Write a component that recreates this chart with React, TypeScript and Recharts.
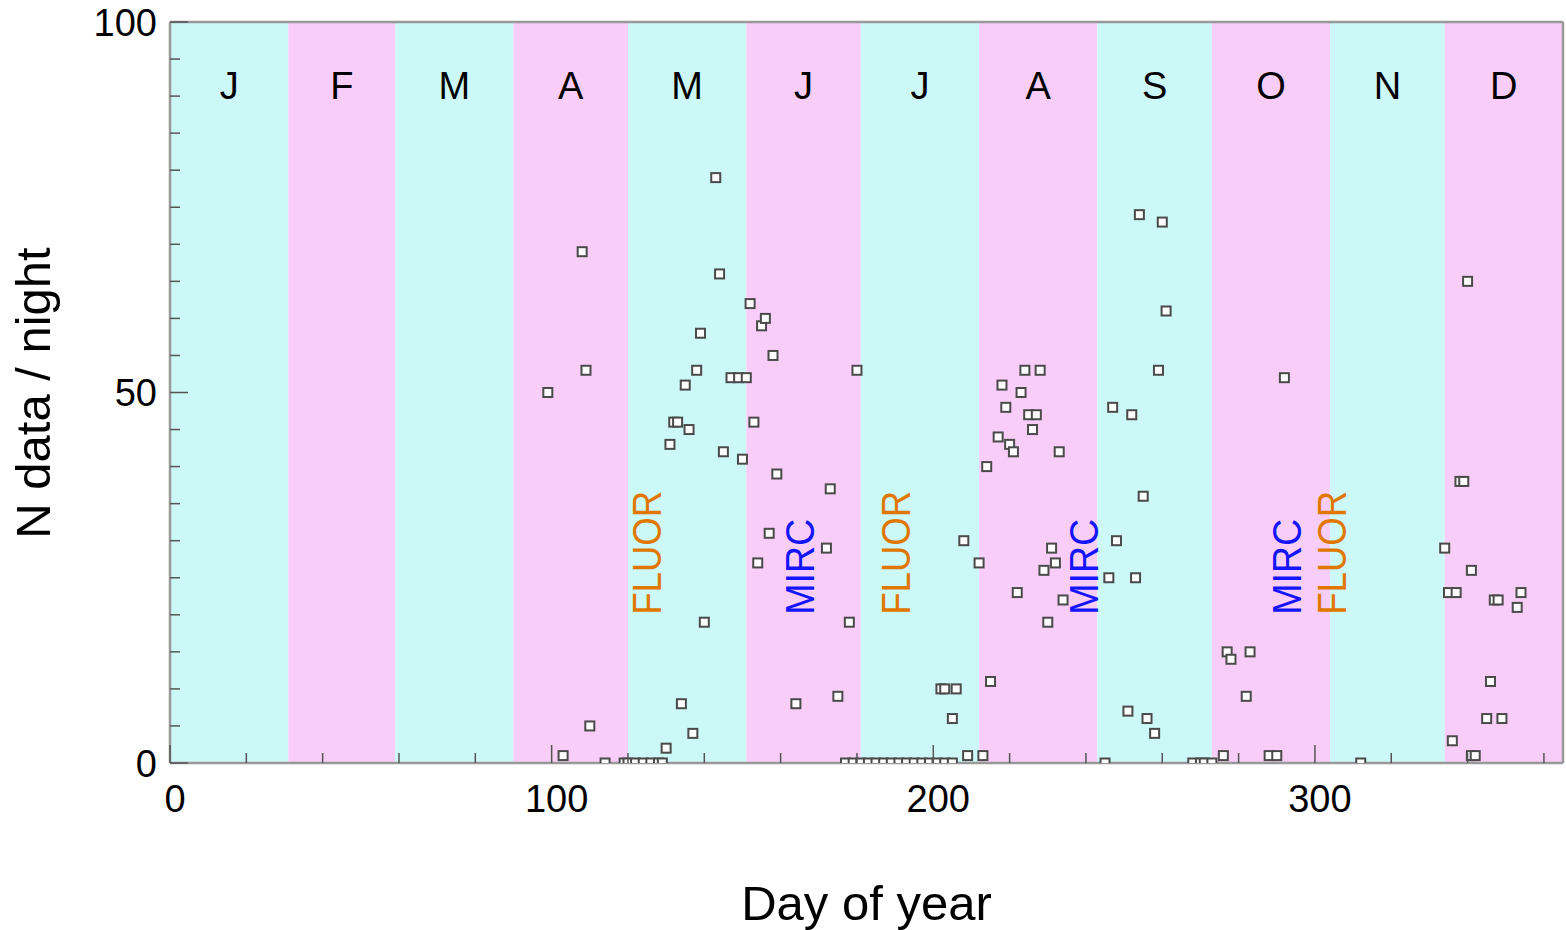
import React from "react";
import { ScatterChart, Scatter, XAxis, YAxis, ReferenceArea } from "recharts";

// nights observed: day of year and number of data points that night
const dayOfYear = [
  99, 103, 108, 109, 110, 114, 119, 120, 122, 124, 126, 128, 129, 130, 131, 132,
  133, 134, 135, 136, 137, 138, 139, 140, 143, 144, 145, 147, 149, 151, 150, 152,
  153, 154, 155, 156, 157, 158, 159, 164, 172, 173, 175, 177, 178, 180,
  179, 181, 183, 185, 187, 189, 191, 193, 195, 197, 199, 201, 203, 205,
  202, 203, 206, 205, 208, 209, 212, 213, 214, 215, 217, 218, 219, 220, 221, 222,
  223, 224, 225, 226, 227, 228, 229, 230, 231, 232, 233, 234, 245, 246, 247, 248,
  251, 252, 253, 254, 255, 256, 258, 259, 260, 261,
  268, 270, 271, 273, 276, 277, 278, 282, 283, 288, 290, 292, 312,
  334, 335, 336, 337, 338, 339, 340, 341, 341, 342, 345, 346, 347, 348, 349, 353, 354,
];
const nDataPerNight = [
  50, 1, 69, 53, 5, 0, 0, 0, 0, 0, 0, 0, 0, 2, 43, 46,
  46, 8, 51, 45, 4, 53, 58, 19, 79, 66, 42, 52, 52, 52, 41, 62,
  46, 27, 59, 60, 31, 55, 39, 8, 29, 37, 9, 0, 19, 53,
  0, 0, 0, 0, 0, 0, 0, 0, 0, 0, 0, 0, 0, 0,
  10, 10, 10, 6, 30, 1, 27, 1, 40, 11, 44, 51, 48, 43, 42, 23,
  50, 53, 47, 45, 47, 53, 26, 19, 29, 27, 42, 22, 0, 25, 48, 30,
  7, 47, 25, 74, 36, 6, 4, 53, 73, 61,
  0, 0, 0, 0, 1, 15, 14, 9, 15, 1, 1, 52, 0,
  29, 23, 3, 23, 38, 38, 65, 26, 1, 1, 6, 11, 22, 22, 6, 21, 23,
];

const monthLetters = ["J", "F", "M", "A", "M", "J", "J", "A", "S", "O", "N", "D"];
const monthStarts = [0, 31, 59, 90, 120, 151, 181, 212, 243, 273, 304, 334];
const monthEnds = [31, 59, 90, 120, 151, 181, 212, 243, 273, 304, 334, 365];

const instrumentNames = ["FLUOR", "MIRC", "FLUOR", "MIRC", "MIRC", "FLUOR"];
const instrumentDays = [125, 165, 190, 239.5, 292.5, 304.5];
const instrumentBase = 20;

const xTicks = [0, 20, 40, 60, 80, 100, 120, 140, 160, 180, 200, 220, 240, 260, 280, 300, 320, 340, 360];
const xMajor = [0, 100, 200, 300];
const yTicks = [0, 5, 10, 15, 20, 25, 30, 35, 40, 45, 50, 55, 60, 65, 70, 75, 80, 85, 90, 95, 100];
const yMajor = [0, 50, 100];

const nights = dayOfYear.map((d, i) => ({ day: d, n: nDataPerNight[i] }));
const instruments = instrumentNames.map((name, i) => ({
  day: instrumentDays[i],
  n: instrumentBase,
  name,
}));

const FONT = '"Liberation Sans", Arial, Helvetica, sans-serif';
const CYAN = "#cdf8f8";
const PINK = "#f8cef8";
const TICK = "#555";
const FRAME = { stroke: "#999", strokeWidth: 2.5 };
const instrumentColor: Record<string, string> = { FLUOR: "#e07800", MIRC: "#1414ff" };

const BottomTick = ({ x, y, payload }: any) => {
  const major = xMajor.includes(payload.value);
  return (
    <g>
      <line x1={x} x2={x} y1={y} y2={y - (major ? 18 : 10)} stroke={TICK} strokeWidth={1.5} />
      {major && (
        <text x={x + 5} y={y + 49} textAnchor="middle" fontSize={38} fontFamily={FONT} fill="#000">
          {payload.value}
        </text>
      )}
    </g>
  );
};

const TopTick = ({ x, y, payload }: any) => {
  const major = xMajor.includes(payload.value);
  return <line x1={x} x2={x} y1={y} y2={y + (major ? 18 : 10)} stroke={TICK} strokeWidth={1.5} />;
};

const LeftTick = ({ x, y, payload }: any) => {
  const major = yMajor.includes(payload.value);
  return (
    <g>
      <line x1={x} x2={x + (major ? 18 : 10)} y1={y} y2={y} stroke={TICK} strokeWidth={1.5} />
      {major && (
        <text x={x - 13} y={y + 13.5} textAnchor="end" fontSize={38} fontFamily={FONT} fill="#000">
          {payload.value}
        </text>
      )}
    </g>
  );
};

const RightTick = ({ x, y, payload }: any) => {
  const major = yMajor.includes(payload.value);
  return <line x1={x} x2={x - (major ? 18 : 10)} y1={y} y2={y} stroke={TICK} strokeWidth={1.5} />;
};

const NightSquare = ({ cx, cy }: any) => (
  <rect x={cx - 4.5} y={cy - 4.5} width={9} height={9} fill="#fff" stroke="#4a4a4a" strokeWidth={2} />
);

const InstrumentText = ({ cx, cy, payload }: any) => (
  <text
    x={cx}
    y={cy}
    dy="0.36em"
    transform={`rotate(-90 ${cx} ${cy})`}
    fontSize={40}
    fontFamily={FONT}
    textLength={payload.name === "FLUOR" ? 124 : 96}
    lengthAdjust="spacingAndGlyphs"
    fill={instrumentColor[payload.name]}
  >
    {payload.name}
  </text>
);

export default function App() {
  return (
    <div style={{ position: "absolute", left: 0, top: 0, background: "#fff" }}>
      <ScatterChart width={1566} height={930} margin={{ top: 21, right: 2, bottom: 107, left: 0 }}>
        {monthLetters.map((m, i) => (
          <ReferenceArea
            key={i}
            xAxisId="b"
            yAxisId="l"
            x1={monthStarts[i]}
            x2={monthEnds[i]}
            y1={0}
            y2={100}
            fill={i % 2 ? PINK : CYAN}
            fillOpacity={1}
            stroke="none"
            label={(p: any) => (
              <text
                x={p.viewBox.x + p.viewBox.width / 2}
                y={p.viewBox.y + 77}
                textAnchor="middle"
                fontSize={38}
                fontFamily={FONT}
                fill="#000"
              >
                {m}
              </text>
            )}
          />
        ))}
        <XAxis
          xAxisId="b"
          dataKey="day"
          type="number"
          domain={[0, 365]}
          ticks={xTicks}
          interval={0}
          allowDataOverflow
          height={60}
          tickSize={0}
          tickMargin={0}
          tickLine={false}
          axisLine={FRAME}
          tick={<BottomTick />}
          label={(p: any) => (
            <text
              x={p.viewBox.x + p.viewBox.width / 2}
              y={920}
              textAnchor="middle"
              fontSize={49}
              fontFamily={FONT}
              fill="#000"
            >
              Day of year
            </text>
          )}
        />
        <XAxis
          xAxisId="t"
          orientation="top"
          type="number"
          domain={[0, 365]}
          ticks={xTicks}
          interval={0}
          height={1}
          tickSize={0}
          tickMargin={0}
          tickLine={false}
          axisLine={FRAME}
          tick={<TopTick />}
        />
        <YAxis
          yAxisId="l"
          dataKey="n"
          type="number"
          domain={[0, 100]}
          ticks={yTicks}
          interval={0}
          allowDataOverflow
          width={170}
          tickSize={0}
          tickMargin={0}
          tickLine={false}
          axisLine={FRAME}
          tick={<LeftTick />}
          label={(p: any) => (
            <text
              x={32}
              y={393}
              dy="0.36em"
              transform="rotate(-90 32 393)"
              textAnchor="middle"
              fontSize={49}
              fontFamily={FONT}
              fill="#000"
            >
              N data / night
            </text>
          )}
        />
        <YAxis
          yAxisId="r"
          orientation="right"
          type="number"
          domain={[0, 100]}
          ticks={yTicks}
          interval={0}
          width={1}
          tickSize={0}
          tickMargin={0}
          tickLine={false}
          axisLine={FRAME}
          tick={<RightTick />}
        />
        <Scatter
          xAxisId="b"
          yAxisId="l"
          data={instruments}
          shape={<InstrumentText />}
          isAnimationActive={false}
        />
        <Scatter
          xAxisId="b"
          yAxisId="l"
          data={nights}
          shape={<NightSquare />}
          isAnimationActive={false}
        />
      </ScatterChart>
    </div>
  );
}
